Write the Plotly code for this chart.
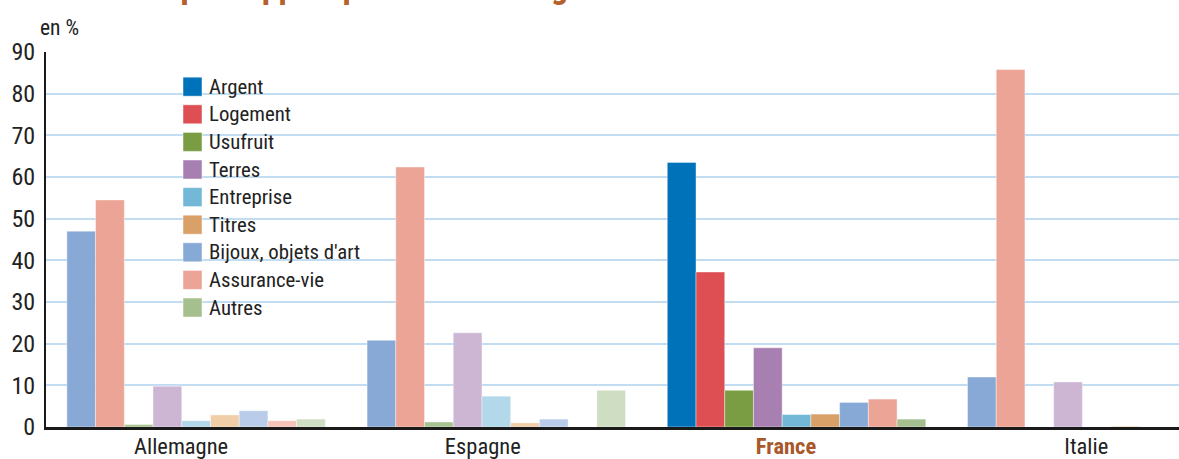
import plotly.graph_objects as go

countries = ["Allemagne", "Espagne", "France", "Italie"]
categories = ["Argent", "Logement", "Usufruit", "Terres", "Entreprise",
              "Titres", "Bijoux, objets d'art", "Assurance-vie", "Autres"]

allemagne = [47.0, 54.5, 0.6, 9.8, 1.5, 2.9, 3.9, 1.5, 1.9]
espagne = [20.8, 62.4, 1.2, 22.6, 7.4, 1.0, 1.9, 0.0, 8.8]
france = [63.5, 37.2, 8.8, 19.0, 3.0, 3.1, 5.9, 6.7, 1.9]
italie = [12.0, 85.8, 0.0, 10.8, 0.0, 0.2, 0.0, 0.0, 0.0]

full_colors = ["#0072b9", "#de4f54", "#7a9d43", "#a780b1", "#73b8d6",
               "#d9a067", "#86a9d6", "#eba496", "#a5c08e"]
faded_colors = ["#88a9d6", "#eba496", "#a7c38f", "#cdb5d4", "#b3d8e9",
                "#f0cea8", "#b9cdea", "#f5c4b8", "#cfddc3"]

y_ticks = [0, 10, 20, 30, 40, 50, 60, 70, 80, 90]
label_shift = [-0.05, -0.045, -0.035, -0.035]

FONT = "Roboto Condensed, Liberation Sans, sans-serif"

W, H = 1179, 459
L, R, T, B = 46, 0, 52, 32
PW, PH = W - L - R, H - T - B

def px(x):
    return (x - L) / PW

def py(y):
    return (H - B - y) / PH

fig = go.Figure()
others_x = [0, 1, 3]
for i, cat in enumerate(categories):
    fig.add_trace(go.Bar(
        x=others_x, y=[allemagne[i], espagne[i], italie[i]],
        marker=dict(color=faded_colors[i], line=dict(color="rgba(255,255,255,0.5)", width=0.8)),
        offsetgroup=str(i), showlegend=False, name=cat))
    fig.add_trace(go.Bar(
        x=[2], y=[france[i]],
        marker=dict(color=full_colors[i], line=dict(color="rgba(255,255,255,0.5)", width=0.8)),
        offsetgroup=str(i), showlegend=False, name=cat))

shapes = []
annotations = []
# legend background
shapes.append(dict(type="rect", xref="paper", yref="paper",
                   x0=px(162), x1=px(369), y0=py(325), y1=py(70),
                   fillcolor="white", line=dict(width=0), layer="between"))
for i, cat in enumerate(categories):
    cy = 86.7 + i * 27.6
    shapes.append(dict(type="rect", xref="paper", yref="paper",
                       x0=px(183), x1=px(202), y0=py(cy + 9.5), y1=py(cy - 9.5),
                       fillcolor=full_colors[i], line=dict(color="rgba(255,255,255,0.6)", width=0.8),
                       layer="above"))
    annotations.append(dict(xref="paper", yref="paper", x=px(207), y=py(cy),
                            xanchor="left", yanchor="middle", text=cat, showarrow=False,
                            font=dict(family=FONT, size=20.8, color="#222222")))

annotations.append(dict(xref="paper", yref="paper", x=px(38), y=py(27),
                        xanchor="left", yanchor="middle", text="en %", showarrow=False,
                        font=dict(family=FONT, size=21.5, color="#222222")))
annotations.append(dict(xref="paper", yref="paper", x=px(1026), y=py(8),
                        xanchor="right", yanchor="bottom",
                        text="<b>3. Part de chaque support parmi les ménages bénéficiaires de transmissions</b>",
                        showarrow=False,
                        font=dict(family=FONT, size=34, color="#b4612b")))

ticktext = []
for c in countries:
    if c == "France":
        ticktext.append("<b><span style='color:#a9582a'>France</span></b>")
    else:
        ticktext.append(c)

fig.update_layout(
    width=W, height=H,
    margin=dict(l=L, r=R, t=T, b=B, pad=0, autoexpand=False),
    paper_bgcolor="white", plot_bgcolor="white",
    barmode="group", bargap=0.139, bargroupgap=0,
    showlegend=False,
    shapes=shapes, annotations=annotations,
    font=dict(family=FONT, size=22, color="#222222"),
    xaxis=dict(range=[-0.5, 3.274], automargin=False,
               tickvals=[i + label_shift[i] for i in range(len(countries))],
               ticktext=ticktext, showgrid=False, zeroline=False,
               showline=True, linecolor="#1a1a1a", linewidth=3,
               ticks="", ticklabelstandoff=-3,
               tickfont=dict(family=FONT, size=22.5, color="#222222")),
    yaxis=dict(range=[0, 90], tickvals=y_ticks, showgrid=True, automargin=False,
               gridcolor="#c2dcf1", gridwidth=2, zeroline=False,
               showline=True, linecolor="#1a1a1a", linewidth=2,
               ticks="", ticklabelstandoff=4,
               tickfont=dict(family=FONT, size=24, color="#222222")),
)

fig.write_html("out.html")
